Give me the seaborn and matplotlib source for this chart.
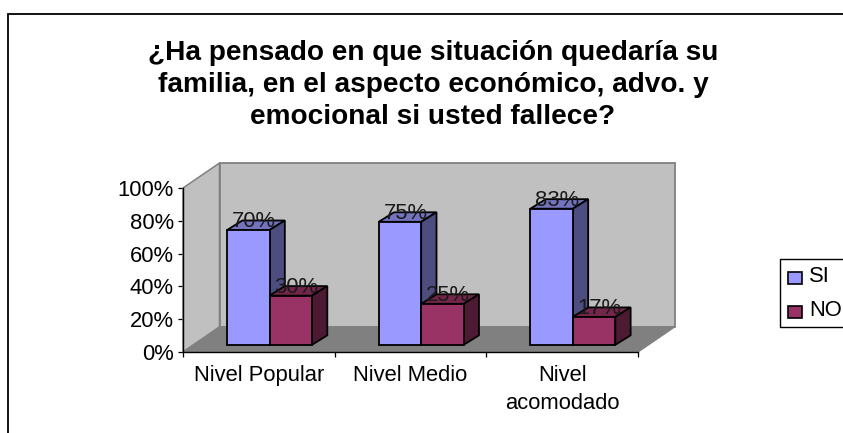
import numpy as np
import pandas as pd
import seaborn as sns
import matplotlib
matplotlib.use("Agg")
import matplotlib.pyplot as plt
from matplotlib.patches import Polygon, Rectangle
from matplotlib.transforms import ScaledTranslation

categories = ["Nivel Popular", "Nivel Medio", "Nivel\nacomodado"]
si_values = [70, 75, 83]
no_values = [30, 25, 17]
series_names = ["SI", "NO"]
y_ticks = [0, 20, 40, 60, 80, 100]
title_text = ("¿Ha pensado en que situación quedaría su\n"
              "familia, en el aspecto económico, advo. y\n"
              "emocional si usted fallece?")

W, H, DPI = 843, 433, 100
FRONT = "#9999FF", "#993366"
TOP = "#7373BF", "#732649"
SIDE = "#4D4D80", "#4D1A33"
LABEL_SIZE = 15.8

sns.set_theme(style="white")
plt.rcParams["font.family"] = ["Liberation Sans", "DejaVu Sans"]

table = pd.DataFrame({
    "nivel": categories * 2,
    "serie": [series_names[0]] * 3 + [series_names[1]] * 3,
    "valor": si_values + no_values,
})

fig = plt.figure(figsize=(W / DPI, H / DPI), dpi=DPI, facecolor="white")
fig.add_artist(Rectangle((8 / W, -0.1), 1.2, 1.1 - 14 / H, transform=fig.transFigure,
                         fill=False, edgecolor="black", linewidth=1.3))

ax = fig.add_axes([183 / W, 1 - 352 / H, 455 / W, 164 / H])


def shift(px_x, px_y):
    return ax.transData + ScaledTranslation(px_x / DPI, px_y / DPI, fig.dpi_scale_trans)


sns.barplot(data=table, x="nivel", y="valor", hue="serie", order=categories,
            hue_order=series_names, palette=list(FRONT), width=0.56, gap=0,
            saturation=1, legend=False, ax=ax, edgecolor="black", linewidth=1.3,
            zorder=5)
ax.set_xlim(-0.5, 2.5)
ax.set_ylim(0, 100)

# Walls and floor of the box behind the bars
DX, DY = 36.5, 25
back = shift(DX, DY)
ax.add_patch(Rectangle((-0.5, 0), 3, 100, transform=back, facecolor="#C0C0C0",
                       edgecolor="#808080", linewidth=1.3, clip_on=False, zorder=1))
px = ax.transData.inverted().transform
x0, y0 = ax.transData.transform((-0.5, 0))
units = px((x0 + DX, y0 + DY)) - px((x0, y0))
ax.add_patch(Polygon([(-0.5, 0), (-0.5, 100), (-0.5 + units[0], 100 + units[1]),
                      (-0.5 + units[0], units[1])], facecolor="#C0C0C0",
                     edgecolor="#808080", linewidth=1.1, clip_on=False, zorder=1))
ax.add_patch(Polygon([(-0.5, 0), (2.5, 0), (2.5 + units[0], units[1]),
                      (-0.5 + units[0], units[1])], facecolor="#808080",
                     edgecolor="#808080", linewidth=1, clip_on=False, zorder=2))

# Bar depth: the front faces sit a little behind the axis plane
BX, BY = 10.7, 7.2
DEPTH_X, DEPTH_Y = 15.3, 9.5
bar_shift = shift(BX, BY)
d = px((x0 + DEPTH_X, y0 + DEPTH_Y)) - px((x0, y0))
bars = [b for b in ax.patches if isinstance(b, Rectangle) and b.get_width() < 0.5]
for bar in bars:
    idx = 0 if matplotlib.colors.to_hex(bar.get_facecolor()).upper() == FRONT[0] else 1
    bar.set_transform(bar_shift)
    bar.set_clip_on(False)
    x, w, v = bar.get_x(), bar.get_width(), bar.get_height()
    ax.add_patch(Polygon([(x, v), (x + w, v), (x + w + d[0], v + d[1]), (x + d[0], v + d[1])],
                         transform=bar_shift, facecolor=TOP[idx], edgecolor="black",
                         linewidth=1.3, clip_on=False, zorder=3 + idx))
    ax.add_patch(Polygon([(x + w, 0), (x + w, v), (x + w + d[0], v + d[1]), (x + w + d[0], d[1])],
                         transform=bar_shift, facecolor=SIDE[idx], edgecolor="black",
                         linewidth=1.3, clip_on=False, zorder=3 + idx))
    ax.text(x + w / 2 + d[0] * 0.36, v + d[1] * 0.85, f"{v:.0f}%", transform=bar_shift,
            ha="center", va="center", fontsize=LABEL_SIZE, color="#1a1a1a", zorder=8)

sns.despine(ax=ax)
for side in ("left", "bottom"):
    ax.spines[side].set_linewidth(1)
    ax.spines[side].set_color("black")
    ax.spines[side].set_zorder(6)

ax.set_xlabel("")
ax.set_ylabel("")
ax.set_yticks(y_ticks, [f"{t}%" for t in y_ticks])
ax.set_xticks([-0.5, 0.5, 1.5, 2.5], [""] * 4)
ax.tick_params(axis="both", which="major", length=3.6, width=0.9, color="black",
               left=True, bottom=True, labelsize=LABEL_SIZE, labelcolor="black", pad=3)
for i, label in enumerate(categories):
    ax.text(i, -8, label, ha="center", va="top", fontsize=LABEL_SIZE, color="black",
            linespacing=1.45, clip_on=False)

fig.text(433 / W, 1 - 85 / H, title_text, ha="center", va="center", fontsize=20.2,
         fontweight="bold", color="black", linespacing=1.3)

# Legend box, cut off by the right edge of the figure
leg = fig.add_axes([780 / W, 1 - 328 / H, 80 / W, 70 / H])
leg.set_xlim(780, 860)
leg.set_ylim(328, 258)
leg.axis("off")
leg.add_patch(Rectangle((780, 259), 80, 68, facecolor="white", edgecolor="black", linewidth=1,
                        clip_on=False))
for name, colour, yc in zip(series_names, FRONT, (278, 312)):
    leg.add_patch(Rectangle((788, yc - 6), 14, 12, facecolor=colour, edgecolor="black", linewidth=1.2))
    leg.text(809, yc - 2, name, ha="left", va="center", fontsize=LABEL_SIZE, color="black")

fig.savefig("out.png", dpi=DPI)
